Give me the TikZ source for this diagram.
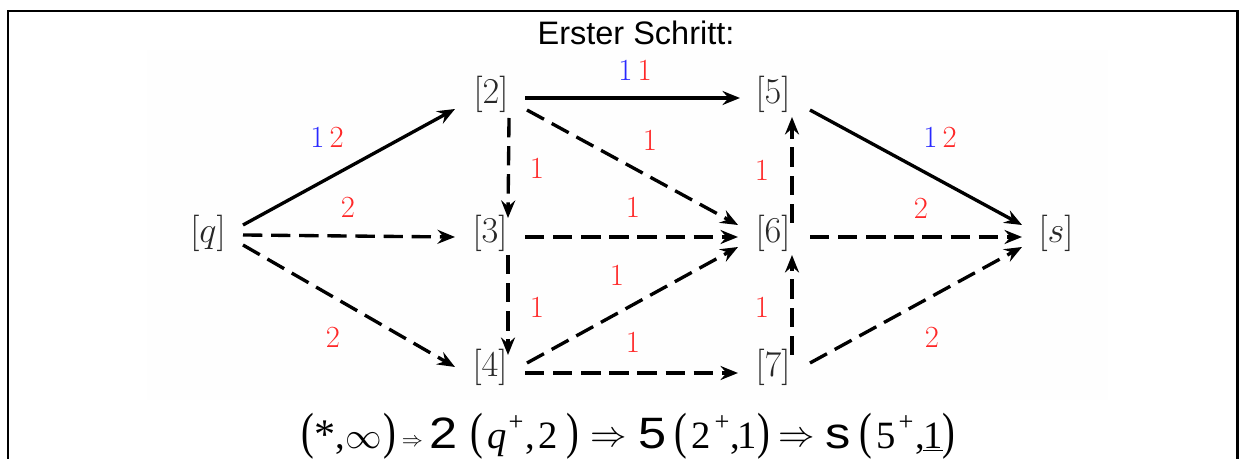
\documentclass[tikz,border=0pt]{standalone}
\usepackage{fontspec}
\usepackage{graphicx}
\usetikzlibrary{arrows.meta,calc}
\newfontfamily\arialf{Liberation Sans}
\newfontfamily\tnrf{Liberation Serif}
\definecolor{lblred}{RGB}{255,40,40}
\definecolor{lblblue}{RGB}{40,40,255}
\definecolor{nodegray}{RGB}{40,40,40}
\tikzset{
  vtx/.style={inner sep=0pt, text=nodegray, font=\fontsize{19.5}{19.5}\selectfont},
  lbl/.style={inner sep=0pt, font=\fontsize{17.5}{17.5}\selectfont},
  edge/.style={line width=1.9pt, -{Stealth[length=10pt,width=8pt,inset=3.5pt]}},
  dedge/.style={edge, dash pattern=on 11pt off 5pt},
  fg/.style={anchor=base, inner sep=0pt, font=\tnrf\fontsize{22}{22}\selectfont},
  fpar/.style={fg, font=\tnrf\fontsize{29}{29}\selectfont},
  fsup/.style={fg, font=\tnrf\fontsize{15}{15}\selectfont},
  fsans/.style={fg, font=\arialf\fontsize{25}{25}\selectfont},
  farr/.style={fg, font=\fontsize{22}{22}\selectfont},
}
\newcommand{\widesans}[1]{\scalebox{1.15}[1]{#1}}
\newcommand{\narrowpar}[1]{\scalebox{0.75}[1]{#1}}
\begin{document}
\begin{tikzpicture}[x=0.02cm,y=-0.02cm]
\useasboundingbox (0,0) rectangle (1245,459);
\fill[gray!1] (147,50) rectangle (1108,400);
\draw[line width=1.7pt] (8,470) -- (8,11) -- (1237,11) -- (1237,470);
\node[font=\arialf\fontsize{18.5}{18.5}\selectfont] (title) at (636,33) {Erster Schritt:};
% vertices
\node[vtx] (q) at (208,233) {$[q]$};
\node[vtx] (n2) at (491,94) {$[2]$};
\node[vtx] (n3) at (490,233) {$[3]$};
\node[vtx] (n4) at (490,367) {$[4]$};
\node[vtx] (n5) at (773,94) {$[5]$};
\node[vtx] (n6) at (773,233) {$[6]$};
\node[vtx] (n7) at (773,367) {$[7]$};
\node[vtx] (s) at (1056,233) {$[s]$};
% edges
\draw[edge] ($(q)+(35,-8)$) -- ($(n2)+(-36,15)$);
\draw[dedge] ($(q)+(35,2)$) -- ($(n3)+(-35,4)$);
\draw[dedge] ($(q)+(35,12)$) -- ($(n4)+(-35,0)$);
\draw[edge] ($(n2)+(34,4)$) -- ($(n5)+(-33,4)$);
\draw[dedge] ($(n2)+(18,24)$) -- ($(n3)+(18,-15)$);
\draw[dedge] ($(n2)+(36,16)$) -- ($(n6)+(-35,-8)$);
\draw[dedge] ($(n3)+(35,4)$) -- ($(n6)+(-35,4)$);
\draw[dedge] ($(n3)+(18,22)$) -- ($(n4)+(18,-12)$);
\draw[dedge] ($(n4)+(37,-4)$) -- ($(n6)+(-35,14)$);
\draw[dedge] ($(n4)+(35,6)$) -- ($(n7)+(-35,6)$);
\draw[dedge] ($(n6)+(19,-10)$) -- ($(n5)+(19,23)$);
\draw[dedge] ($(n7)+(19,-12)$) -- ($(n6)+(19,22)$);
\draw[edge] ($(n5)+(37,16)$) -- ($(s)+(-34,-8)$);
\draw[dedge] ($(n6)+(37,4)$) -- ($(s)+(-34,4)$);
\draw[dedge] ($(n7)+(37,-4)$) -- ($(s)+(-34,14)$);
% labels
\node[lbl] (l1) at (327,137) {\textcolor{lblblue}{1}\,\textcolor{lblred}{2}};
\node[lbl,text=lblred] (l2) at (348,207) {2};
\node[lbl,text=lblred] (l3) at (333,337) {2};
\node[lbl] (l4) at (635,70) {\textcolor{lblblue}{1}\,\textcolor{lblred}{1}};
\node[lbl,text=lblred] (l5) at (537,168) {1};
\node[lbl,text=lblred] (l6) at (650,140) {1};
\node[lbl,text=lblred] (l7) at (633,207) {1};
\node[lbl,text=lblred] (l8) at (617,275) {1};
\node[lbl,text=lblred] (l9) at (537,307) {1};
\node[lbl,text=lblred] (l10) at (633,342) {1};
\node[lbl,text=lblred] (l11) at (762,307) {1};
\node[lbl,text=lblred] (l12) at (762,170) {1};
\node[lbl] (l13) at (940,137) {\textcolor{lblblue}{1}\,\textcolor{lblred}{2}};
\node[lbl,text=lblred] (l14) at (921,208) {2};
\node[lbl,text=lblred] (l15) at (932,337) {2};
% formula (*,oo) => 2 (q+,2) => 5 (2+,1) => s (5+,1)
\node[fpar] (f1) at (307.5,448) {\narrowpar{(}};
\node[fg,font=\tnrf\fontsize{24}{24}\selectfont] (f2) at (325.5,448) {*};
\node[fg] (f3) at (340,448) {,};
\node[fg,font=\fontsize{20}{20}\selectfont] (f4) at (364,448) {$\infty$};
\node[fpar] (f5) at (390,448) {\narrowpar{)}};
\node[fg,font=\fontsize{12}{12}\selectfont] (f6) at (412.5,446) {$\Rightarrow$};
\node[fsans] (f7) at (443.5,448) {\widesans{2}};
\node[fpar] (f8) at (476.5,448) {\narrowpar{(}};
\node[fg] (f9) at (497,448) {\textit{q}};
\node[fsup] (f10) at (516,430) {+};
\node[fg] (f11) at (530.5,448) {,};
\node[fg] (f12) at (548.5,448) {2};
\node[fpar] (f13) at (572.5,448) {\narrowpar{)}};
\node[farr] (f14) at (609,446) {$\Rightarrow$};
\node[fsans] (f15) at (652.5,448) {\widesans{5}};
\node[fpar] (f16) at (680.5,448) {\narrowpar{(}};
\node[fg] (f17) at (701,448) {2};
\node[fsup] (f18) at (722,430) {+};
\node[fg] (f19) at (735,448) {,};
\node[fg] (f20) at (747,448) {1};
\node[fpar] (f21) at (764,448) {\narrowpar{)}};
\node[farr] (f22) at (797,446) {$\Rightarrow$};
\node[fsans] (f23) at (838,448) {\widesans{s}};
\node[fpar] (f24) at (865.5,448) {\narrowpar{(}};
\node[fg] (f25) at (886,448) {5};
\node[fsup] (f26) at (906,430) {+};
\node[fg] (f27) at (920,448) {,};
\node[fg] (f28) at (933,448) {\underline{1}};
\node[fpar] (f29) at (949,448) {\narrowpar{)}};
\end{tikzpicture}
\end{document}
